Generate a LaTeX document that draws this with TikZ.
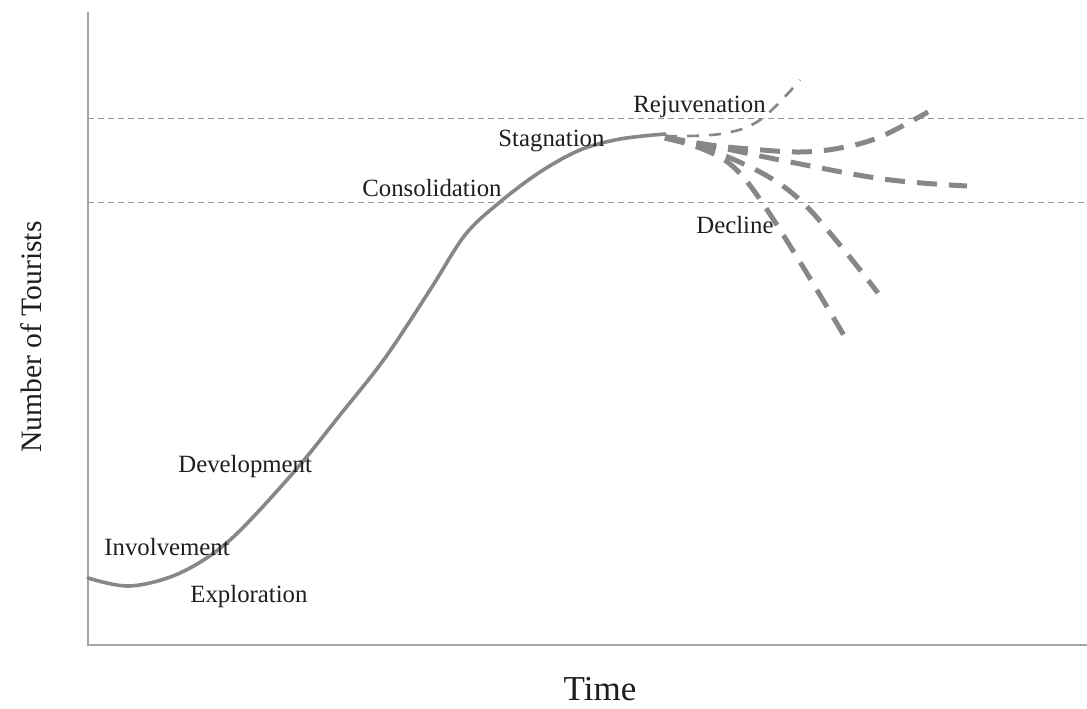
\documentclass[tikz,border=0pt]{standalone}
\usepackage{fontspec}
\setmainfont{Liberation Serif}
\definecolor{axisgray}{RGB}{165,165,165}
\definecolor{curvegray}{RGB}{135,135,135}
\definecolor{guidegray}{RGB}{150,150,150}
\definecolor{textdark}{RGB}{30,30,30}
\begin{document}
\begin{tikzpicture}[x=0.5pt,y=-0.5pt,
  axisline/.style={draw=axisgray,line width=0.8pt},
  guideline/.style={draw=guidegray,line width=0.5pt,dash pattern=on 3pt off 2pt},
  maincurve/.style={draw=curvegray,line width=1.8pt,line cap=round},
  thickdash/.style={draw=curvegray,line width=2.5pt,dash pattern=on 10pt off 6pt},
  thindash/.style={draw=curvegray,line width=1.3pt,dash pattern=on 6pt off 5pt},
  stagelabel/.style={anchor=base west,inner sep=0pt,text=textdark,font=\fontsize{12.4}{14}\selectfont},
  axislabel/.style={inner sep=0pt,text=textdark}]
\useasboundingbox (0,0) rectangle (1087,708);
% axes
\coordinate (ytop) at (88,12);
\coordinate (origin) at (88,645);
\coordinate (xend) at (1087,645);
\draw[axisline] (ytop) -- (origin) -- (xend);
% guide lines
\coordinate (g1a) at (88,118); \coordinate (g1b) at (1087,118);
\coordinate (g2a) at (88,202); \coordinate (g2b) at (1087,202);
\draw[guideline] (g1a) -- (g1b);
\draw[guideline] (g2a) -- (g2b);
% main curve
\draw[maincurve] plot[smooth,tension=0.55] coordinates {(88,578) (130,586) (180,573) (230,540) (293,473) (340,415) (385,358) (430,290) (465,235) (500,202) (540,172) (580,150) (620,139) (665,134)};
% branches
\draw[thindash] plot[smooth,tension=0.6] coordinates {(665,136) (720,134) (760,120) (800,80)};
\draw[thickdash] plot[smooth,tension=0.6] coordinates {(665,137) (710,145) (750,149) (800,152) (840,148) (880,137) (928,112)};
\draw[thickdash] plot[smooth,tension=0.6] coordinates {(665,138) (717,147) (780,160) (883,179) (967,186)};
\draw[thickdash] plot[smooth,tension=0.6] coordinates {(665,138) (700,146) (760,172) (800,200) (840,245) (878,293)};
\draw[thickdash] plot[smooth,tension=0.6] coordinates {(665,138) (700,148) (730,164) (757,195) (800,262) (849,344)};
% stage labels
\node[stagelabel] (rej) at (633,112) {Rejuvenation};
\node[stagelabel] (stag) at (498,146) {Stagnation};
\node[stagelabel] (cons) at (362,196) {Consolidation};
\node[stagelabel] (dec) at (696,233) {Decline};
\node[stagelabel] (dev) at (178,472) {Development};
\node[stagelabel] (inv) at (104,555) {Involvement};
\node[stagelabel] (exp) at (190,602) {Exploration};
% axis labels
\node[axislabel,anchor=base,font=\fontsize{17.5}{20}\selectfont] (time) at (600,700) {Time};
\node[axislabel,anchor=base,rotate=90,font=\fontsize{14.8}{18}\selectfont] (num) at (41,337) {Number of Tourists};
\end{tikzpicture}
\end{document}
